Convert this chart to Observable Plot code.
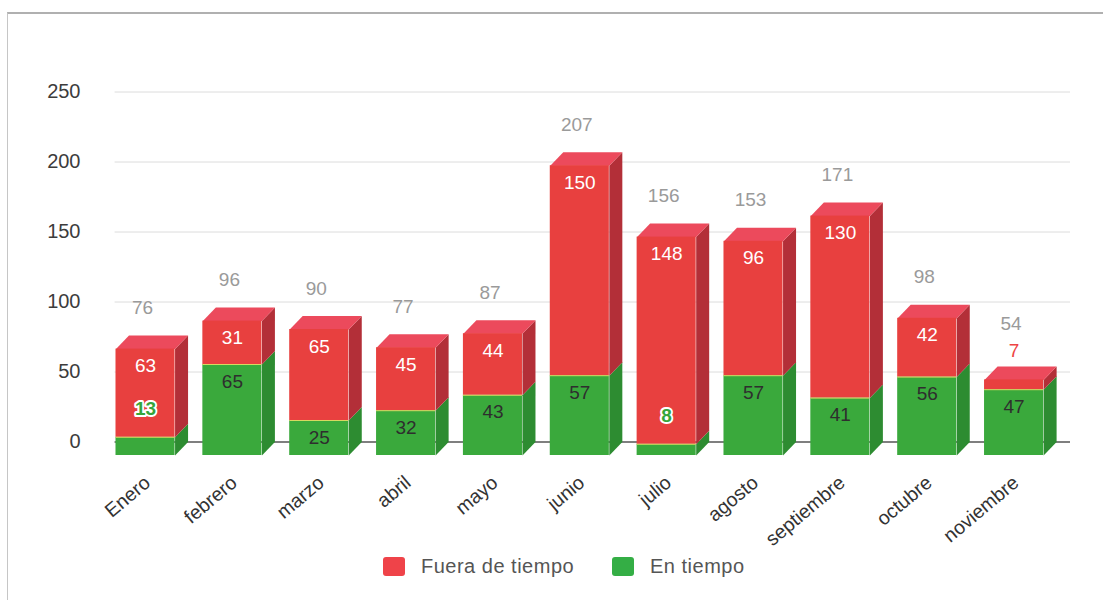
<!DOCTYPE html>
<html><head><meta charset="utf-8">
<script src="https://cdn.jsdelivr.net/npm/d3@7"></script>
<script src="https://cdn.jsdelivr.net/npm/@observablehq/plot@0.6"></script>
<style>
body{margin:0;background:#fff;font-family:"Liberation Sans",Arial,sans-serif;}
#wrap{position:relative;width:1103px;height:600px;overflow:hidden;background:#fff;}
#chart{position:absolute;left:0;top:0;}
#frame{position:absolute;left:7px;top:12px;width:1200px;height:700px;border-top:2px solid #b0b0b0;border-left:1.5px solid #c6c6c6;z-index:2;}
#legend{position:absolute;left:0;top:548px;width:1103px;height:52px;z-index:3;}
.item{position:absolute;top:7px;display:flex;align-items:center;font-size:20px;letter-spacing:0.5px;color:#555;}
.sw{width:22px;height:19px;border-radius:3px;margin-right:16px;}
</style></head>
<body><div id="wrap"><div id="chart"></div><div id="frame"></div><div id="legend"></div></div>
<script>
// ---- data ----
const months = ["Enero","febrero","marzo","abril","mayo","junio","julio","agosto","septiembre","octubre","noviembre"];
const enTiempo = [13,65,25,32,43,57,8,57,41,56,47];
const fueraTiempo = [63,31,65,45,44,150,148,96,130,42,7];
const totals = [76,96,90,77,87,207,156,153,171,98,54];
const yTicks = [0,50,100,150,200,250];
const seriesNames = ["Fuera de tiempo","En tiempo"];

// ---- colours ----
const C = {
  redFront:"#e8403f", redSide:"#b32f38", redTop:"#ec4a5c", redLabel:"#ee4444",
  greenFront:"#3aa93c", greenSide:"#2d8c31", greenTop:"#54c052", greenLabel:"#35a53a"
};

// ---- layout ----
const W = 1103, H = 548;
const mL = 101.6, mR = 46, mT = 91.5, mB = H - 441.5;
const step = (W - mL - mR) / 11;     // px per category
const ky = (H - mT - mB) / 250;      // px per unit
const hw = 0.34;                     // half bar width (category units)
const depthX = 13, depthY = 13.5;    // 3D depth in px
const ddx = depthX / step, ddy = depthY / ky;

// segments
const segs = [];
months.forEach((m, i) => {
  const g = enTiempo[i], r = fueraTiempo[i];
  segs.push({i, s:"En tiempo", y1:0, y2:g, v:g});
  segs.push({i, s:"Fuera de tiempo", y1:g, y2:g + r, v:r});
});
const small = d => d.v * ky < 22;

// polygons (side faces & top faces)
const sidePts = s => {
  const x2 = s.i + hw;
  const id = s.i + s.s;
  return [[x2, s.y1],[x2, s.y2],[x2 + ddx, s.y2 + ddy],[x2 + ddx, s.y1 + ddy]].map(([x,y]) => ({id, x, y}));
};
const greenSides = segs.filter(d => d.s === "En tiempo").flatMap(sidePts);
const redSides = segs.filter(d => d.s === "Fuera de tiempo").flatMap(sidePts);
const topPts = months.flatMap((m, i) => {
  const T = totals[i], x1 = i - hw, x2 = i + hw;
  return [[x1, T],[x2, T],[x2 + ddx, T + ddy],[x1 + ddx, T + ddy]].map(([x,y]) => ({id:i, x, y}));
});

const greenSegs = segs.filter(d => d.s === "En tiempo");
const redSegs = segs.filter(d => d.s === "Fuera de tiempo");
const topShifted = i => small(redSegs[i]);
const totalData = months.map((m, i) => ({i, t: totals[i]}));

const plot = Plot.plot({
  width: W, height: H,
  marginLeft: mL, marginRight: mR, marginTop: mT, marginBottom: mB,
  style: {fontFamily: "Liberation Sans, Arial, sans-serif", background: "transparent", overflow: "visible"},
  x: {type: "linear", domain: [-0.5, 10.5], axis: null},
  y: {domain: [0, 250], axis: null},
  marks: [
    Plot.gridY(yTicks, {dx: depthX, stroke: "#dcdcdc", strokeOpacity: 1, strokeWidth: 1}),
    Plot.ruleY([0], {dx: depthX, stroke: "#5a5a5a", strokeWidth: 1.6}),
    Plot.axisY(yTicks, {tickSize: 0, tickPadding: 21.6, fontSize: 20, fill: "#3c3c3c", label: null}),
    Plot.axisX(d3.range(months.length), {tickFormat: i => months[i], tickRotate: -40, tickSize: 0, tickPadding: 38, dx: 2, fontSize: 19.5, fill: "#333", label: null}),
    // side faces
    Plot.line(greenSides, {x: "x", y: "y", z: "id", fill: C.greenSide, stroke: null, dy: depthY, curve: "linear-closed"}),
    Plot.line(redSides, {x: "x", y: "y", z: "id", fill: C.redSide, stroke: null, dy: depthY, curve: "linear-closed"}),
    // top faces
    Plot.line(topPts, {x: "x", y: "y", z: "id", fill: C.redTop, stroke: null, dy: depthY, curve: "linear-closed"}),
    // front faces
    Plot.rect(greenSegs, {x1: d => d.i - hw, x2: d => d.i + hw, y1: "y1", y2: "y2", fill: C.greenFront, dy: depthY}),
    Plot.rect(redSegs, {x1: d => d.i - hw, x2: d => d.i + hw, y1: "y1", y2: "y2", fill: C.redFront, dy: depthY}),
    Plot.ruleY(greenSegs, {x1: d => d.i - hw, x2: d => d.i + hw, y: "y2", stroke: "#d8d860", strokeWidth: 1, dy: depthY}),
    // inside labels
    Plot.text(redSegs.filter(d => !small(d)), {x: "i", y: "y2", text: "v", fill: "white", fontSize: 19, dy: depthY + 17}),
    Plot.text(greenSegs.filter(d => !small(d)), {x: "i", y: "y2", text: "v", fill: "#2e2e2e", fontSize: 19, dy: depthY + 17}),
    // outside (small segment) labels
    Plot.text(greenSegs.filter(small), {x: "i", y: "y2", text: "v", fill: C.greenLabel, stroke: "white", strokeWidth: 4, paintOrder: "stroke", fontSize: 19, fontWeight: "bold", dy: depthY - 28}),
    Plot.text(redSegs.filter(small), {x: "i", y: "y2", text: "v", fill: C.redLabel, stroke: "white", strokeWidth: 4, paintOrder: "stroke", fontSize: 19, dy: depthY - 29}),
    // totals
    Plot.text(totalData.filter(d => !topShifted(d.i)), {x: "i", y: "t", text: "t", fill: "#9a9a9a", fontSize: 19, dx: -3, dy: depthY - 41}),
    Plot.text(totalData.filter(d => topShifted(d.i)), {x: "i", y: "t", text: "t", fill: "#9a9a9a", fontSize: 19, dx: -3, dy: depthY - 56})
  ]
});
document.getElementById("chart").appendChild(plot);

// legend
const legend = document.getElementById("legend");
const legendColors = {"Fuera de tiempo": "#ef4349", "En tiempo": "#34ae45"};
const legendLeft = {"Fuera de tiempo": 383, "En tiempo": 612};
seriesNames.forEach(n => {
  const it = document.createElement("div");
  it.className = "item";
  it.style.left = legendLeft[n] + "px";
  const sw = document.createElement("div");
  sw.className = "sw";
  sw.style.background = legendColors[n];
  const tx = document.createElement("span");
  tx.textContent = n;
  it.appendChild(sw); it.appendChild(tx);
  legend.appendChild(it);
});
</script>
</body></html>
